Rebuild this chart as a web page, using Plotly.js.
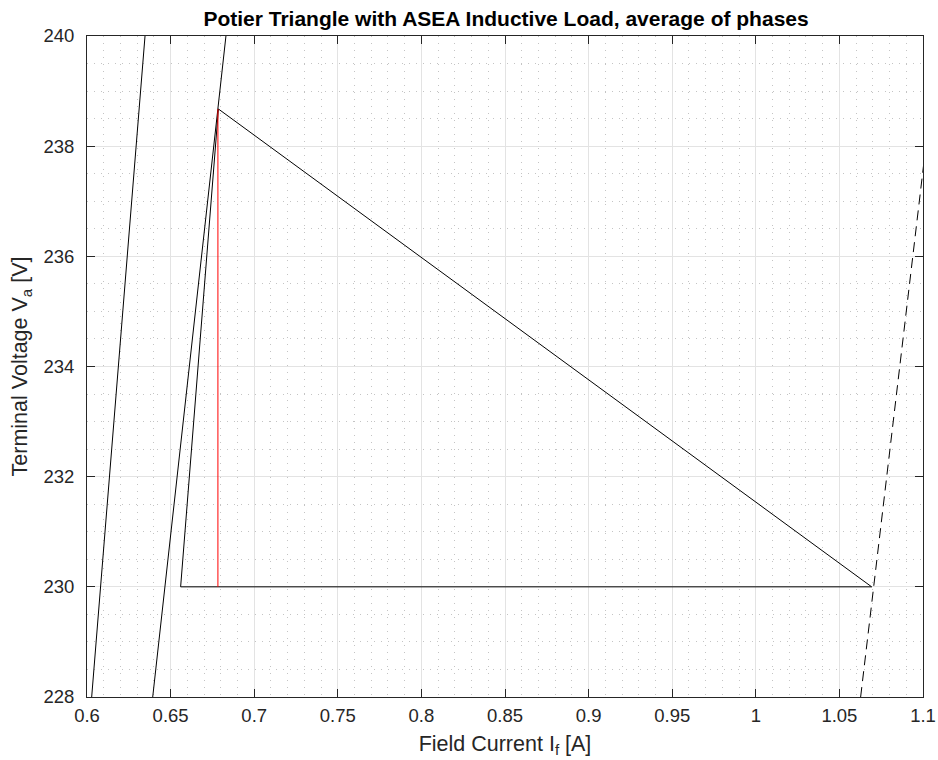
<!DOCTYPE html>
<html>
<head>
<meta charset="utf-8">
<script src="https://cdn.plot.ly/plotly-3.0.1.min.js"></script>
<style>html,body{margin:0;padding:0;background:#fff;}#chart{width:938px;height:760px;}</style>
</head>
<body>
<div id="chart"></div>
<script>
// Air-gap line
const airGapIf = [0.6028, 0.6347];
const airGapV = [228, 240];
// Open-circuit characteristic
const occIf = [0.6393, 0.6831];
const occV = [228, 240];
// Potier triangle (corner, apex, load point, back to corner)
const triIf = [0.6560, 0.6786, 1.0693, 0.6560];
const triV = [230, 238.675, 230, 230];
// Potier reactance drop (red)
const dropIf = [0.6783, 0.6783];
const dropV = [230, 238.675];
// Shifted characteristic through the load point (dashed)
const shiftIf = [1.0627, 1.1095];
const shiftV = [228, 240];
// Ticks
const xTickVals = [0.6, 0.65, 0.7, 0.75, 0.8, 0.85, 0.9, 0.95, 1, 1.05, 1.1];
const xTickLabels = ['0.6', '0.65', '0.7', '0.75', '0.8', '0.85', '0.9', '0.95', '1', '1.05', '1.1'];
const yTickVals = [228, 230, 232, 234, 236, 238, 240];
const yTickLabels = ['228', '230', '232', '234', '236', '238', '240'];

const FONT = 'Liberation Sans, Arial, Helvetica, sans-serif';
const black = {color: '#000000', width: 1};

const traces = [
  {x: airGapIf, y: airGapV, mode: 'lines', line: black, hoverinfo: 'skip'},
  {x: occIf, y: occV, mode: 'lines', line: black, hoverinfo: 'skip'},
  {x: triIf, y: triV, mode: 'lines', line: black, hoverinfo: 'skip'},
  {x: shiftIf, y: shiftV, mode: 'lines', line: {color: '#000000', width: 1, dash: '10px,6px'}, hoverinfo: 'skip'},
  {x: dropIf, y: dropV, mode: 'lines', line: {color: '#ff0000', width: 1}, hoverinfo: 'skip'}
];

const axisCommon = {
  showline: true, linecolor: '#262626', linewidth: 1, mirror: 'ticks',
  ticks: 'inside', ticklen: 8, tickwidth: 1, tickcolor: '#262626',
  showgrid: true, gridcolor: '#e3e3e3', gridwidth: 1,
  zeroline: false,
  tickfont: {family: FONT, size: 18.5, color: '#262626'},
  tickmode: 'array'
};

const layout = {
  width: 938, height: 760,
  margin: {l: 87, r: 15, t: 36, b: 63},
  paper_bgcolor: '#ffffff', plot_bgcolor: '#ffffff',
  showlegend: false,
  font: {family: FONT, color: '#262626'},
  title: {
    text: '<b>Potier Triangle with ASEA Inductive Load, average of phases</b>',
    font: {family: FONT, size: 21, color: '#000000'},
    x: 0.5395, xanchor: 'center', y: 0.976, yanchor: 'middle'
  },
  xaxis: Object.assign({}, axisCommon, {
    range: [0.6, 1.1],
    tickvals: xTickVals, ticktext: xTickLabels,
    ticklabelstandoff: 2,
    minor: {tickmode: 'linear', tick0: 0.6, dtick: 0.01, showgrid: true, gridcolor: '#c4c4c4', griddash: '1px,6px', gridwidth: 1, ticks: ''},
    title: {text: 'Field Current I<sub>f</sub> [A]', font: {family: FONT, size: 21.5, color: '#262626'}, standoff: 10}
  }),
  yaxis: Object.assign({}, axisCommon, {
    range: [228, 240],
    tickvals: yTickVals, ticktext: yTickLabels,
    ticklabelstandoff: 8,
    minor: {tickmode: 'linear', tick0: 228, dtick: 0.5, showgrid: true, gridcolor: '#c4c4c4', griddash: '1px,6px', gridwidth: 1, ticks: ''},
    title: {text: 'Terminal Voltage V<sub>a</sub> [V]', font: {family: FONT, size: 21.5, color: '#262626'}, standoff: 9}
  })
};

Plotly.newPlot('chart', traces, layout, {staticPlot: true, displayModeBar: false});
</script>
</body>
</html>
